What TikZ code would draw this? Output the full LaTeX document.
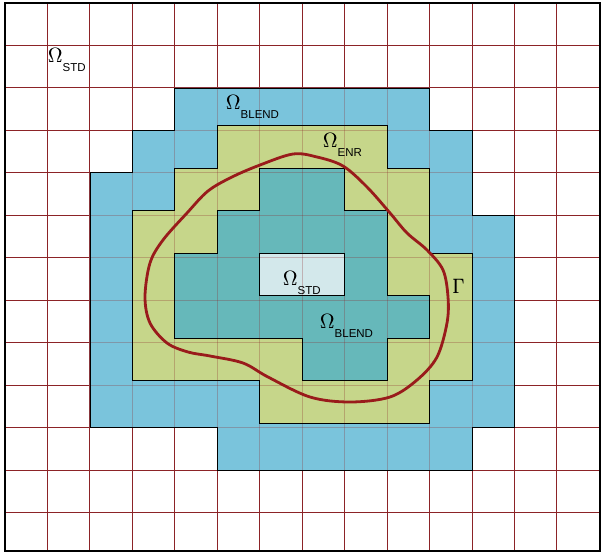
\documentclass[tikz,border=0pt]{standalone}
\usepackage[no-math]{fontspec}
\newfontfamily\subsans{Liberation Sans}
\definecolor{gridred}{HTML}{8C2327}
\definecolor{curvered}{HTML}{991B1B}
\definecolor{blendfill}{HTML}{7AC4DC}
\definecolor{enrfill}{HTML}{C6D68A}
\definecolor{innerfill}{HTML}{66B8BA}
\definecolor{stdfill}{HTML}{D3E8EB}
% slightly heavier Greek capital by overprinting
\newcommand\heavy[1]{\rlap{$#1$}\kern0.35pt$#1$}
% Omega with a sans-serif subscript set well below the baseline
\newcommand\omlab[1]{\heavy{\Omega}\kern0.3pt\raisebox{-9.8pt}{\fontsize{11.5}{11.5}\selectfont\subsans #1}}
\tikzset{
  gridline/.style={draw=gridred, line width=0.9pt},
  region/.style={draw=black, line width=0.8pt},
  lbl/.style={anchor=base west, inner sep=0pt, font=\fontsize{20}{20}\selectfont},
  blendpoly/.style={insert path={(4,2) -- (10,2) -- (10,3) -- (11,3) -- (11,5) -- (12,5) -- (12,10) -- (11,10) -- (11,11) -- (5,11) -- (5,10) -- (2,10) -- (2,4) -- (3,4) -- (3,3) -- (4,3) -- cycle}},
  enrpoly/.style={insert path={(5,3) -- (9,3) -- (9,4) -- (10,4) -- (10,6) -- (11,6) -- (11,9) -- (10,9) -- (10,10) -- (6,10) -- (6,9) -- (3,9) -- (3,5) -- (4,5) -- (4,4) -- (5,4) -- cycle}},
  innerpoly/.style={insert path={(6,4) -- (8,4) -- (8,5) -- (9,5) -- (9,7) -- (10,7) -- (10,8) -- (9,8) -- (9,9) -- (7,9) -- (7,8) -- (4,8) -- (4,6) -- (5,6) -- (5,5) -- (6,5) -- cycle}},
  stdpoly/.style={insert path={(6,6) rectangle (8,7)}},
}
\begin{document}
\begin{tikzpicture}[x=1pt, y=-1pt]
\useasboundingbox (0,0) rectangle (601,552);
\fill[white] (0,0) rectangle (601,552);

% cell grid: 14 columns, rows cut off by the lower frame edge
\begin{scope}[xshift=5pt, yshift=-3pt, x=42.45pt, y=-42.45pt]
  \foreach \c in {1,...,13} \draw[gridline] (\c,0) -- (\c,12.909);
  \foreach \r in {1,...,12} \draw[gridline] (0,\r) -- (14,\r);

  % blending band
  \path[fill=blendfill, blendpoly];
  % enriched, inner blending and standard patches (set slightly higher)
  \begin{scope}[yshift=4.5pt]
    \path[fill=enrfill, enrpoly];
    \path[fill=innerfill, innerpoly];
    \path[fill=stdfill, stdpoly];
  \end{scope}

  % grid seen faintly through the coloured patches
  \begin{scope}
    \path[clip, blendpoly];
    \foreach \c in {1,...,13} \draw[gridline, draw opacity=0.28] (\c,0) -- (\c,12.909);
    \foreach \r in {1,...,12} \draw[gridline, draw opacity=0.28] (0,\r) -- (14,\r);
  \end{scope}

  \path[region, blendpoly];
  \begin{scope}[yshift=4.5pt]
    \path[region, enrpoly];
    \path[region, innerpoly];
    \path[region, stdpoly];
  \end{scope}
\end{scope}

% interface Gamma
\draw[curvered, line width=2.8pt, line join=round]
  plot[smooth cycle, tension=0.55] coordinates {
    (293,154) (317,157) (343,166) (367,187) (390,213) (407,233) (427,250)
    (443,270) (448,297) (447,323) (437,357) (417,380) (390,397) (350,402)
    (310,397) (268,377) (243,363) (210,356) (188,352) (167,343) (150,323)
    (145,297) (150,263) (163,240) (187,213) (208,191) (232,177) (260,165)};

% labels
\node[lbl] (stdout)   at (48,62)   {\omlab{STD}};
\node[lbl] (blendout) at (226,109) {\omlab{BLEND}};
\node[lbl] (enr)      at (323,147) {\omlab{ENR}};
\node[lbl] (stdin)    at (283,285) {\omlab{STD}};
\node[lbl] (blendin)  at (320,328) {\omlab{BLEND}};
\node[lbl] (gamma)    at (452,293) {\heavy{\Gamma}};

% outer frame
\draw[black, line width=1.3pt] (5,3) rectangle (600,551);
\end{tikzpicture}
\end{document}
